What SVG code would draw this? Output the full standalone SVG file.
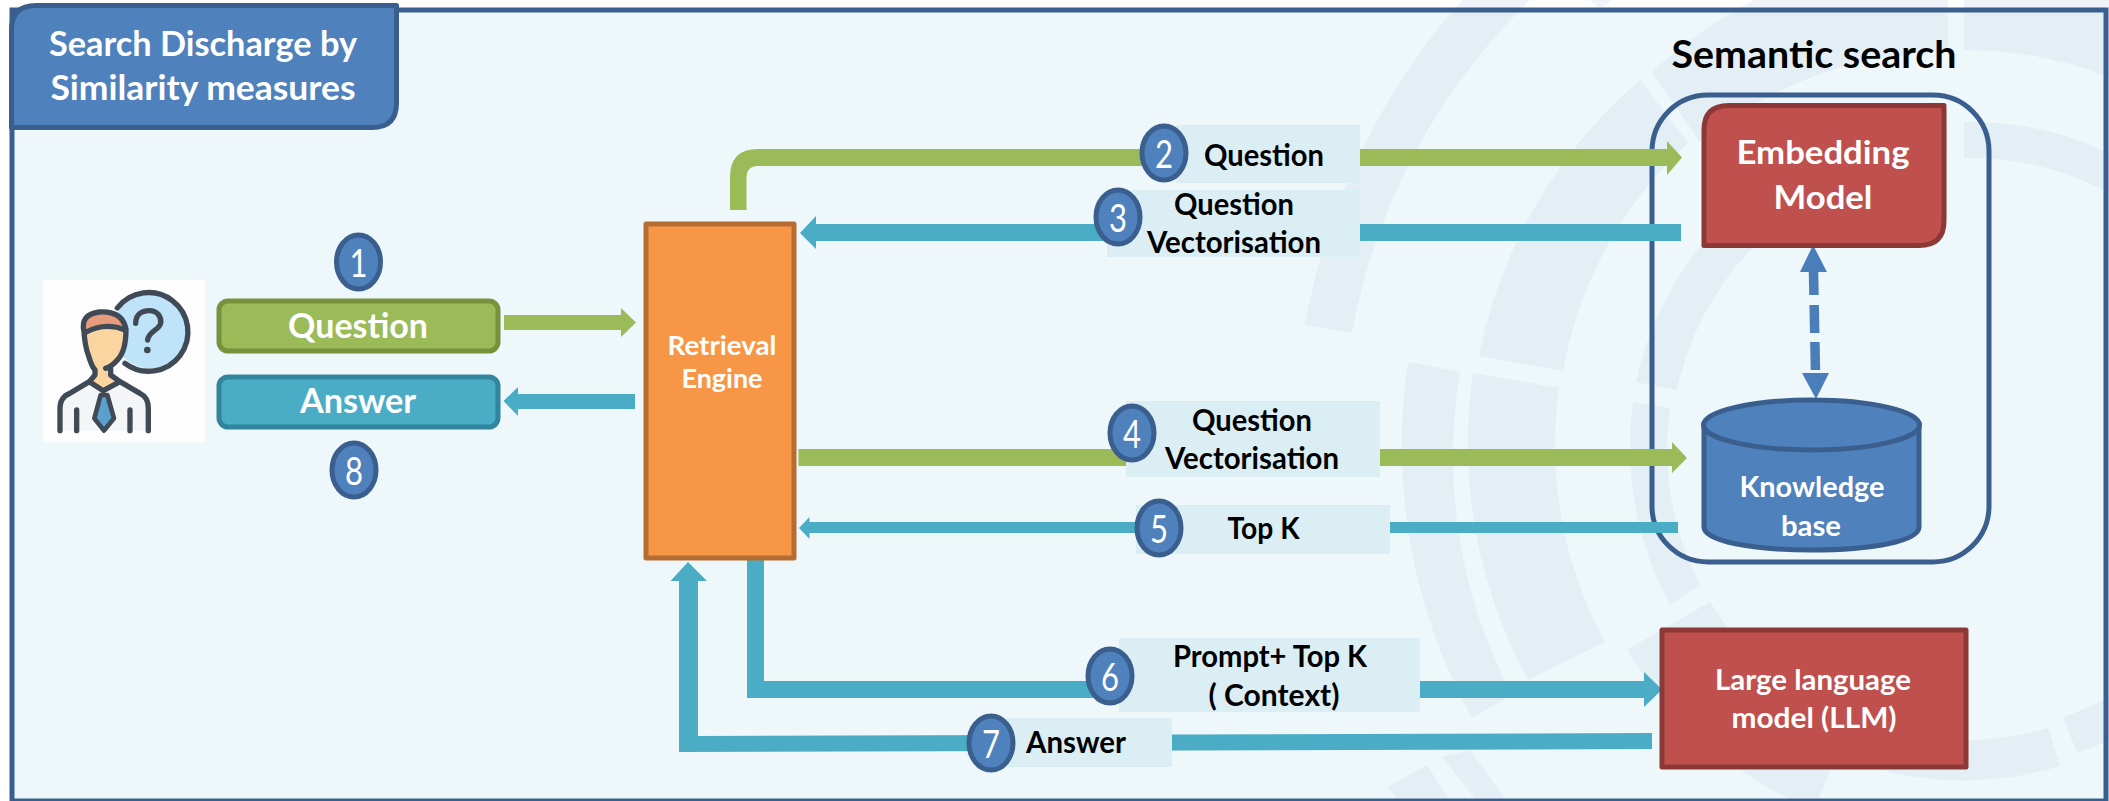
<svg xmlns="http://www.w3.org/2000/svg" width="2109" height="801" viewBox="0 0 2109 801">
<style>
text{font-family:Lato,"Carlito","Noto Sans",sans-serif;font-weight:700;text-anchor:middle}
.w{fill:#fff}.k{fill:#000}
.t32{font-size:35px}.t28{font-size:30px}.t27{font-size:29px}.t25{font-size:27px}.t31{font-size:33px}
.num{font-size:38px;font-weight:400;fill:#fff}
.badge{fill:#4F81BD;stroke:#3A5F8E;stroke-width:5}
.lab{fill:#DBEEF4}
.g{fill:#9BBB59}.b{fill:#4BACC6}
.red{fill:#C0504D;stroke:#8C3836;stroke-width:5;stroke-linejoin:round}
.ic{fill:none;stroke:#3F4A56;stroke-width:16;stroke-linecap:round;stroke-linejoin:round}
</style>
<rect width="2109" height="801" fill="#fff"/>
<rect x="10" y="10" width="2097" height="791" fill="#EEF7FA"/>
<g id="watermark" fill="#C8D6E8" fill-opacity="0.28">
<path d="M1305,325A670,670 0 0 1 1462,0L1530,0A620,620 0 0 0 1352,333Z"/>
<path d="M1479,356A490,490 0 0 1 1640,80L1688,143A408,408 0 0 0 1563,371Z"/>
<path d="M1652,72A488,488 0 0 1 1754,0L1948,0L1948,52A392,392 0 0 0 1700,142Z"/>
<path d="M1964,0L2109,0L2109,77A392,392 0 0 0 1964,50Z"/>
<path d="M1636,382A332,332 0 0 1 1948,121L1948,159A292,292 0 0 0 1677,390Z"/>
<path d="M1964,122A330,330 0 0 1 2109,153L2109,193A292,292 0 0 0 1964,158Z"/>
<path d="M1633,402A334,334 0 0 0 1670,605L1700,585A297,297 0 0 1 1670,408Z"/>
<path d="M1408,362A565,565 0 0 0 1472,718L1512,695A510,510 0 0 1 1460,372Z"/>
<path d="M1473,373A497,497 0 0 0 1528,680L1605,642A411,411 0 0 1 1559,388Z"/>
<path d="M1627,650A397,397 0 0 0 1794,801L1818,801L1850,720A300,300 0 0 1 1710,602Z"/>
<path d="M1855,762A330,330 0 0 0 2060,766L2048,728A290,290 0 0 1 1868,724Z"/>
<path d="M2063,717A285,285 0 0 0 2109,697L2109,740A323,323 0 0 1 2077,753Z"/>
<path d="M1387,787L1427,765L1450,801L1399,801Z"/>
<path d="M1442,757L1470,750L1507,801L1477,801Z"/>
<path d="M1590,0L1612,0L1603,7L1598,7Z"/>
</g>
<rect id="frame" x="12" y="10" width="2094" height="791" fill="none" stroke="#3A5F8E" stroke-width="5"/>

<g id="semantic-group"><rect x="1652" y="95" width="337" height="467" rx="56" fill="none" stroke="#3A5F8E" stroke-width="5"/>
<text class="k" x="1814" y="68" font-size="38" textLength="285" lengthAdjust="spacingAndGlyphs">Semantic search</text></g>

<g id="connectors">
<polygon class="g" points="504,315 621,315 621,308 636,322.5 621,337 621,330 504,330"/>
<polygon class="b" points="635,394 518,394 518,387 503.5,401 518,416 518,409 635,409"/>
<path class="g" d="M730,210V177Q730,149 758,149H1667V141L1682,157.5L1667,175V166H758Q746.5,166 746.5,178V210Z"/>
<polygon class="b" points="1681,224 816,224 816,216 800,233 816,249 816,241 1681,241"/>
<polygon class="g" points="798.5,449 1672,449 1672,442 1687,458 1672,473 1672,466 798.5,466"/>
<polygon class="b" points="1678,522 809.5,522 809.5,517 799,528 809.5,539 809.5,533 1678,533"/>
<polygon class="b" points="747,560 764,560 764,681 1644,681 1644,672 1662,689.5 1644,707 1644,698 747,698"/>
<polygon class="b" points="1652,733 698,736 698,581 707,581 688,562 670.5,581 679,581 679,752 1652,749"/>
<g id="link-embedding-knowledge" fill="#4A7EBB">
<polygon points="1813,245 1827,272 1800,272"/>
<polygon points="1816,399 1829,373 1802,373"/>
<line x1="1813.5" y1="272" x2="1815.5" y2="373" stroke="#4A7EBB" stroke-width="9.5" stroke-dasharray="23 10 28 9 28"/>
</g>
</g>

<g id="title"><path d="M11.500,127.500V30Q11.500,5.500 36,5.500H396.500V103Q396.500,127.500 372,127.500Z" fill="#4F81BD" stroke="#3A5F8E" stroke-width="5" stroke-linejoin="round"/>
<text class="w t32" x="203" y="56" textLength="308" lengthAdjust="spacingAndGlyphs">Search Discharge by</text>
<text class="w t32" x="203" y="100" textLength="305" lengthAdjust="spacingAndGlyphs">Similarity measures</text></g>

<g id="user"><rect x="43" y="280" width="162" height="162" fill="#FDFDFD"/>
<g transform="translate(40,280) scale(0.3333)">
<circle cx="330" cy="153" r="112" fill="#BFE3F9"/>
<path class="ic" d="M232,84A118,118 0 1 1 255,250"/>
<path class="ic" stroke-width="14" d="M287,130C287,100 310,92 328,92C352,92 365,110 362,130C358,150 325,155 323,180"/>
<circle cx="322" cy="210" r="10" fill="#3F4A56"/>
<path d="M60,452V385Q60,350 90,335L148,305L190,330L240,305L300,335Q325,350 325,385V452Z" fill="#F4F5F6"/>
<path d="M165,240V285L148,305L190,335L235,305L215,285V240Z" fill="#FBD5A0"/>
<path d="M135,130H255V200Q245,262 195,265Q145,260 135,200Z" fill="#FBD5A0"/>
<path d="M130,155Q118,105 175,95Q245,90 258,150Q200,130 135,158Z" fill="#E59B7C"/>
<path class="ic" stroke-width="15" d="M132,155Q120,103 178,96Q248,92 258,148Q258,215 232,240Q215,260 197,265M135,158Q195,125 256,150M132,155Q135,200 145,225Q155,260 165,270V285L148,305L90,340Q60,352 60,385V452M212,268V285L240,305L300,340Q325,352 325,385V452M148,305L190,332L240,305M110,390V452M270,390V452"/>
<path d="M182,345H202L222,415L192,452L163,415Z" fill="#5AA0CC" stroke="#3F4A56" stroke-width="14" stroke-linejoin="round"/>
</g></g>

<g id="question-box"><rect x="219" y="301" width="279" height="50" rx="9" fill="#9BBB59" stroke="#76923C" stroke-width="5"/>
<text class="w t32" x="358" y="338" textLength="140" lengthAdjust="spacingAndGlyphs">Question</text></g>
<g id="answer-box"><rect x="219" y="377" width="279" height="50" rx="9" fill="#4BACC6" stroke="#31859C" stroke-width="5"/>
<text class="w t32" x="358" y="413" textLength="116" lengthAdjust="spacingAndGlyphs">Answer</text></g>

<g id="retrieval-engine"><rect x="646" y="224" width="148" height="334" fill="#F79646" stroke="#B66D31" stroke-width="5" stroke-linejoin="round"/>
<text class="w t25" x="722" y="355" textLength="109" lengthAdjust="spacingAndGlyphs">Retrieval</text>
<text class="w t25" x="722" y="388" textLength="81" lengthAdjust="spacingAndGlyphs">Engine</text></g>

<g id="embedding-model"><path class="red" d="M1704,245.500V130Q1704,105.500 1729,105.500H1944V221Q1944,245.500 1919,245.500Z"/>
<text class="w t31" x="1823" y="164" textLength="173" lengthAdjust="spacingAndGlyphs">Embedding</text>
<text class="w t31" x="1823" y="209" textLength="99" lengthAdjust="spacingAndGlyphs">Model</text></g>

<g id="knowledge-base"><path d="M1704,425V527C1704,541 1752,550 1812,550C1872,550 1919,541 1919,527V425Z" fill="#4F81BD" stroke="#3A5F8E" stroke-width="5"/>
<ellipse cx="1811.500" cy="425" rx="108" ry="25" fill="#4F81BD" stroke="#3A5F8E" stroke-width="5"/>
<text class="w t27" x="1812" y="497" textLength="145" lengthAdjust="spacingAndGlyphs">Knowledge</text>
<text class="w t27" x="1811" y="536" textLength="60" lengthAdjust="spacingAndGlyphs">base</text></g>

<g id="llm"><rect class="red" x="1662" y="630" width="304" height="137"/>
<text class="w t27" x="1813" y="690" textLength="196" lengthAdjust="spacingAndGlyphs">Large language</text>
<text class="w t27" x="1814" y="728" textLength="165" lengthAdjust="spacingAndGlyphs">model (LLM)</text></g>

<g id="label-2"><rect class="lab" x="1176" y="125" width="184" height="58"/><text class="k t28" x="1264" y="166" textLength="120" lengthAdjust="spacingAndGlyphs">Question</text></g>
<g id="label-3"><rect class="lab" x="1107" y="190" width="253" height="67"/><text class="k t28" x="1234" y="215" textLength="120" lengthAdjust="spacingAndGlyphs">Question</text><text class="k t28" x="1234" y="253" textLength="174" lengthAdjust="spacingAndGlyphs">Vectorisation</text></g>
<g id="label-4"><rect class="lab" x="1126" y="401" width="254" height="76"/><text class="k t28" x="1252" y="431" textLength="120" lengthAdjust="spacingAndGlyphs">Question</text><text class="k t28" x="1252" y="469" textLength="174" lengthAdjust="spacingAndGlyphs">Vectorisation</text></g>
<g id="label-5"><rect class="lab" x="1136" y="505" width="254" height="49"/><text class="k t28" x="1263.500" y="539" textLength="72" lengthAdjust="spacingAndGlyphs">Top K</text></g>
<g id="label-6"><rect class="lab" x="1119" y="638" width="301" height="74"/><text class="k t28" x="1270" y="667" textLength="194" lengthAdjust="spacingAndGlyphs">Prompt+ Top K</text><text class="k t28" x="1274" y="706" textLength="131" lengthAdjust="spacingAndGlyphs">( Context)</text></g>
<g id="label-7"><rect class="lab" x="1006" y="718" width="166" height="49"/><text class="k t28" x="1076" y="753" textLength="100" lengthAdjust="spacingAndGlyphs">Answer</text></g>

<g id="step-1"><ellipse class="badge" cx="358.500" cy="262" rx="22" ry="27"/><text class="num" x="358.500" y="277" textLength="18" lengthAdjust="spacingAndGlyphs">1</text></g>
<g id="step-2"><ellipse class="badge" cx="1164" cy="153" rx="22" ry="27"/><text class="num" x="1164" y="168" textLength="18" lengthAdjust="spacingAndGlyphs">2</text></g>
<g id="step-3"><ellipse class="badge" cx="1118" cy="217" rx="22" ry="27"/><text class="num" x="1118" y="232" textLength="18" lengthAdjust="spacingAndGlyphs">3</text></g>
<g id="step-4"><ellipse class="badge" cx="1132" cy="433" rx="22" ry="27"/><text class="num" x="1132" y="448" textLength="18" lengthAdjust="spacingAndGlyphs">4</text></g>
<g id="step-5"><ellipse class="badge" cx="1159" cy="528" rx="22" ry="27"/><text class="num" x="1159" y="543" textLength="18" lengthAdjust="spacingAndGlyphs">5</text></g>
<g id="step-6"><ellipse class="badge" cx="1110" cy="676" rx="22" ry="27"/><text class="num" x="1110" y="691" textLength="18" lengthAdjust="spacingAndGlyphs">6</text></g>
<g id="step-7"><ellipse class="badge" cx="991" cy="743" rx="22" ry="27"/><text class="num" x="991" y="758" textLength="18" lengthAdjust="spacingAndGlyphs">7</text></g>
<g id="step-8"><ellipse class="badge" cx="354" cy="470" rx="22" ry="27"/><text class="num" x="354" y="485" textLength="18" lengthAdjust="spacingAndGlyphs">8</text></g>
</svg>
